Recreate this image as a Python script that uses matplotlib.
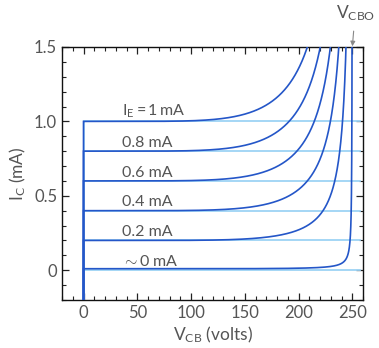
import numpy as np
import matplotlib
matplotlib.use("Agg")
import matplotlib.pyplot as plt
from matplotlib.ticker import MultipleLocator

plt.rcParams["font.family"] = ["Lato", "DejaVu Sans"]
plt.rcParams["mathtext.fontset"] = "custom"
plt.rcParams["mathtext.rm"] = "Lato"
plt.rcParams["mathtext.it"] = "Lato:italic"
plt.rcParams["mathtext.sf"] = "Lato"

# Emitter currents (mA) for each common-base output curve
emitter_currents = [1.0, 0.8, 0.6, 0.4, 0.2, 0.01]
ideal_levels = [1.0, 0.8, 0.6, 0.4, 0.2, 0.0]
curve_labels = [r"$\mathrm{I_E} = 1\,\mathrm{mA}$", "0.8 mA", "0.6 mA", "0.4 mA", "0.2 mA",
                r"$\sim$0 mA"]
v_cbo = 250.0          # collector-base breakdown voltage (volts)
miller_exponent = 6.0  # avalanche multiplication exponent
ideal_v_end = 257.0

text_gray = "#555555"
dark_blue = "#2456c8"
light_blue = "#9dd3f4"

fig = plt.figure(figsize=(3.79, 3.48), dpi=100)
ax = fig.add_axes([0.1636, 0.138, 0.7944, 0.727])

ymin, ymax = -0.2, 1.5
v = np.linspace(0, v_cbo * 0.99999, 4000)

# ideal (no breakdown) characteristics
for lvl in ideal_levels:
    ax.plot([0, 0, ideal_v_end], [ymin - 0.1, lvl, lvl], color=light_blue, lw=1.3, zorder=2,
            solid_joinstyle="miter")

# characteristics with avalanche multiplication
for ie in emitter_currents:
    m = 1.0 / (1.0 - (v / v_cbo) ** miller_exponent)
    ic = ie * m
    keep = ic <= ymax + 0.2
    vv = np.concatenate([[0, 0], v[keep]])
    ii = np.concatenate([[ymin - 0.1, ie], ic[keep]])
    ax.plot(vv, ii, color=dark_blue, lw=1.2, zorder=3, solid_joinstyle="miter")

for lvl, lab in zip(ideal_levels, curve_labels):
    ax.text(36, lvl + 0.008, lab, fontsize=11.5, color=text_gray, ha="left", va="bottom")

ax.set_xlim(-20, 260)
ax.set_ylim(ymin, ymax)
ax.xaxis.set_major_locator(MultipleLocator(50))
ax.xaxis.set_minor_locator(MultipleLocator(10))
ax.yaxis.set_major_locator(MultipleLocator(0.5))
ax.yaxis.set_minor_locator(MultipleLocator(0.1))
ax.set_yticks([0, 0.5, 1.0, 1.5])
ax.set_yticklabels(["0", "0.5", "1.0", "1.5"])
ax.tick_params(which="both", direction="in", top=True, right=True, colors="#222222",
               labelcolor=text_gray, labelsize=12)
ax.tick_params(which="major", length=5, width=0.9)
ax.tick_params(which="minor", length=3, width=0.8)
for s in ax.spines.values():
    s.set_linewidth(1.0)
    s.set_color("#111111")

ax.set_xlabel(r"$\mathrm{V_{CB}}$ (volts)", fontsize=12.5, color=text_gray, labelpad=3)
ax.set_ylabel(r"$\mathrm{I_{C}}$ (mA)", fontsize=12.5, color=text_gray, labelpad=4)

ax.annotate(r"$\mathrm{V_{CBO}}$", xy=(v_cbo, ymax), xycoords="data",
            xytext=(2, 24), textcoords="offset points",
            ha="center", va="center", fontsize=12.5, color=text_gray,
            arrowprops=dict(arrowstyle="-|>", color="#888888", lw=0.8,
                            mutation_scale=7, shrinkA=3.5, shrinkB=0.5),
            annotation_clip=False)

fig.savefig("out.png", dpi=100)
